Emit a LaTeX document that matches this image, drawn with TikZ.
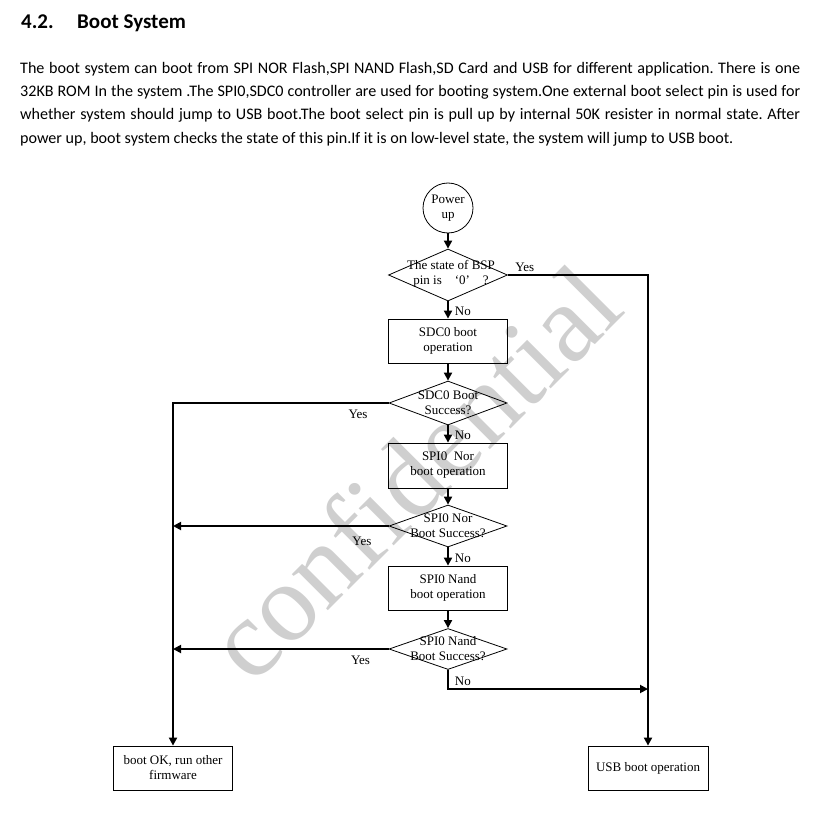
\documentclass[tikz,border=0pt]{standalone}
\usepackage{fontspec}
\setmainfont{Liberation Serif}
\newfontfamily\docfont{Carlito}
\usetikzlibrary{shapes.geometric, arrows.meta}

\begin{document}
\begin{tikzpicture}[x=1pt, y=-1pt,
    box/.style={draw, rectangle, line width=0.8pt, minimum width=119pt, minimum height=44pt, inner sep=0pt, align=center, font=\fontsize{13}{15}\selectfont},
    decision/.style={draw, diamond, line width=0.8pt, minimum width=118pt, minimum height=44pt, inner sep=0pt},
    qtext/.style={align=center, inner sep=0pt, font=\fontsize{13}{15}\selectfont},
    lbl/.style={inner sep=2pt, font=\fontsize{13}{15}\selectfont},
    flow/.style={line width=1.8pt, -{Triangle[length=8pt, width=8pt]}},
    watermark/.style={text=black!19, rotate=45, font=\fontsize{111}{111}\selectfont}]
    \useasboundingbox (0,0) rectangle (814,818);
    \fill[white] (0,0) rectangle (814,818);

    % Heading and text
    \node[anchor=base west, inner sep=0pt, font=\docfont\bfseries\fontsize{21}{24}\selectfont] (secnum) at (21,29) {4.2.};
    \node[anchor=base west, inner sep=0pt, font=\docfont\bfseries\fontsize{21}{24}\selectfont] (sectitle) at (77,29) {Boot System};
    \node[anchor=north west, inner sep=0pt, text width=780pt, align=justify, font=\docfont\fontsize{16.1}{23.3}\selectfont\frenchspacing] (intro) at (20,62)
        {The boot system can boot from SPI NOR Flash,SPI NAND Flash,SD Card and USB for different application. There is one\linebreak
         32KB ROM In the system .The SPI0,SDC0 controller are used for booting system.One external boot select pin is used for\linebreak
         whether system should jump to USB boot.The boot select pin is pull up by internal 50K resister in normal state. After\linebreak
         power up, boot system checks the state of this pin.If it is on low-level state, the system will jump to USB boot.};

    % Watermark
    \node[watermark] (mark) at (413,472) {confidential};

    % Flow chart
    \node[draw, circle, line width=0.8pt, minimum size=50pt, inner sep=0pt, align=center, font=\fontsize{13}{15}\selectfont] (power) at (448,208) {Power\\up};

    \node[decision, minimum width=119pt, minimum height=52pt] (q1) at (448,275) {};
    \node[qtext] at (451,274) {The state of BSP\\pin is\quad‘0’\quad?};
    \node[box] (sdc) at (448,341) {SDC0 boot\\operation};

    \node[decision] (q2) at (448,403) {};
    \node[qtext] at (q2) {SDC0 Boot\\Success?};
    \node[box, minimum height=45pt] (nor) at (448,465.5) {SPI0\ \ Nor\\boot operation};

    \node[decision, minimum height=42pt] (q3) at (448,526) {};
    \node[qtext] at (q3) {SPI0 Nor\\Boot Success?};
    \node[box] (nand) at (448,588) {SPI0 Nand\\boot operation};

    \node[decision, minimum height=41pt] (q4) at (448,649) {};
    \node[qtext] at (q4) {SPI0 Nand\\Boot Success?};

    \node[box] (ok) at (173,768) {boot OK, run other\\firmware};
    \node[box, minimum width=120pt] (usb) at (648,768) {USB boot operation};
    \coordinate (usbjoin) at (648,689);

    % Connectors
    \draw[flow] (power) -- (q1);
    \draw[flow] (q1) -- node[lbl, right, pos=0.6, xshift=4pt] {No} (sdc);
    \draw[flow] (q1.east) -| node[lbl, above, pos=0.06] {Yes} (usb.north);
    \draw[flow] (sdc) -- (q2);
    \draw[flow] (q2) -- node[lbl, right, pos=0.6, xshift=4pt] {No} (nor);
    \draw[flow] (q2.west) -| node[lbl, below, pos=0.071, yshift=-4pt] {Yes} (ok.north);
    \draw[flow] (nor) -- (q3);
    \draw[flow] (q3) -- node[lbl, right, pos=0.6, xshift=4pt] {No} (nand);
    \draw[flow] (q3.west) -- node[lbl, below, pos=0.124, yshift=-8pt] {Yes} (ok.north |- q3.west);
    \draw[flow] (nand) -- (q4);
    \draw[flow] (q4.west) -- node[lbl, below, pos=0.13, yshift=-4pt] {Yes} (ok.north |- q4.west);
    \draw[flow] (q4.south) |- node[lbl, right, pos=0.3, xshift=4pt] {No} (usbjoin);
\end{tikzpicture}
\end{document}
